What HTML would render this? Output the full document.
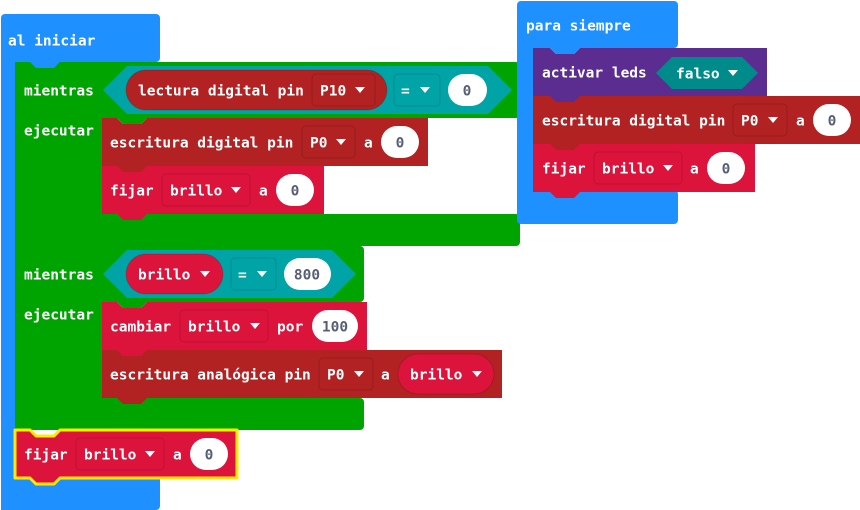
<!DOCTYPE html>
<html><head><meta charset="utf-8"><style>
html,body{margin:0;padding:0;background:#fff;}
svg{display:block}
text{font-family:"DejaVu Sans Mono","Liberation Mono",monospace;font-weight:bold;font-size:14.5px;fill:#fff;dominant-baseline:central;transform:translateY(1.5px)}
.n{fill:#575e75;text-anchor:middle}
.dd{stroke:rgba(0,0,0,0.15);stroke-width:1}
</style></head><body>
<svg width="860" height="510" viewBox="0 0 860 510" xmlns="http://www.w3.org/2000/svg">
<!-- al iniciar -->
<rect x="1" y="14" width="159" height="48" rx="4" fill="#1e90ff"/>
<rect x="1" y="40" width="16" height="470" fill="#1e90ff"/>
<rect x="1" y="470" width="159" height="40" rx="4" fill="#1e90ff"/>
<text x="8" y="40">al iniciar</text>

<!-- green mientras 1 -->
<rect x="15" y="62" width="505" height="56" rx="4" fill="#00a400"/>
<rect x="15" y="62" width="88" height="184" fill="#00a400"/>
<rect x="15" y="214" width="505" height="32" rx="4" fill="#00a400"/>
<polygon points="30,62 36,68 54,68 60,62" fill="#1e90ff"/>
<text x="24" y="90">mientras</text>
<text x="24" y="130">ejecutar</text>
<polygon points="103,90 127,66 488,66 512,90 488,114 127,114" fill="#00a4a6"/>
<rect x="126" y="70" width="261" height="40" rx="20" fill="#b22222" class="dd"/>
<text x="138" y="90">lectura digital pin</text>
<rect x="312" y="74" width="63" height="32" rx="4" fill="#b22222" class="dd"/>
<text x="320" y="90">P10</text>
<polygon points="355,87 365,87 360,93" fill="#fff"/>
<rect x="394" y="74" width="46" height="32" rx="4" fill="#00a4a6" class="dd"/>
<text x="401" y="90">=</text>
<polygon points="420,87 430,87 425,93" fill="#fff"/>
<rect x="448" y="74" width="39" height="32" rx="16" fill="#fff"/>
<text x="467" y="90" class="n">0</text>

<!-- escritura digital -->
<polygon points="102,118 117,118 123,124 141,124 147,118 428,118 428,166 147,166 141,172 123,172 117,166 102,166" fill="#b22222"/>
<polygon points="117,118 123,124 141,124 147,118" fill="#00a400"/>
<text x="110" y="142">escritura digital pin</text>
<rect x="302" y="126" width="53" height="32" rx="4" fill="#b22222" class="dd"/>
<text x="310" y="142">P0</text>
<polygon points="336,139 346,139 341,145" fill="#fff"/>
<text x="364" y="142">a</text>
<rect x="381" y="126" width="38" height="32" rx="16" fill="#fff"/>
<text x="400" y="142" class="n">0</text>

<!-- fijar -->
<polygon points="102,166 324,166 324,214 147,214 141,220 123,220 117,214 102,214" fill="#dc143c"/>
<polygon points="117,166 123,172 141,172 147,166" fill="#b22222"/>
<text x="110" y="190">fijar</text>
<rect x="162" y="174" width="88" height="32" rx="4" fill="#dc143c" class="dd"/>
<text x="170" y="190">brillo</text>
<polygon points="231,187 241,187 236,193" fill="#fff"/>
<text x="259" y="190">a</text>
<rect x="276" y="174" width="38" height="32" rx="16" fill="#fff"/>
<text x="295" y="190" class="n">0</text>

<!-- green mientras 2 -->
<rect x="15" y="246" width="349" height="56" rx="4" fill="#00a400"/>
<rect x="15" y="246" width="88" height="184" fill="#00a400"/>
<rect x="15" y="398" width="349" height="32" rx="4" fill="#00a400"/>
<text x="24" y="274">mientras</text>
<text x="24" y="314">ejecutar</text>
<polygon points="103,274 127,250 332,250 356,274 332,298 127,298" fill="#00a4a6"/>
<rect x="126" y="254" width="97" height="40" rx="20" fill="#dc143c" class="dd"/>
<text x="138" y="274">brillo</text>
<polygon points="200,271 210,271 205,277" fill="#fff"/>
<rect x="231" y="258" width="45" height="32" rx="4" fill="#00a4a6" class="dd"/>
<text x="238" y="274">=</text>
<polygon points="257,271 267,271 262,277" fill="#fff"/>
<rect x="284" y="258" width="47" height="32" rx="16" fill="#fff"/>
<text x="307" y="274" class="n">800</text>

<!-- cambiar -->
<polygon points="102,302 117,302 123,308 141,308 147,302 367,302 367,350 147,350 141,356 123,356 117,350 102,350" fill="#dc143c"/>
<polygon points="117,302 123,308 141,308 147,302" fill="#00a400"/>
<text x="110" y="326">cambiar</text>
<rect x="180" y="310" width="88" height="32" rx="4" fill="#dc143c" class="dd"/>
<text x="188" y="326">brillo</text>
<polygon points="250,323 260,323 255,329" fill="#fff"/>
<text x="277" y="326">por</text>
<rect x="312" y="310" width="46" height="32" rx="16" fill="#fff"/>
<text x="335" y="326" class="n">100</text>

<!-- escritura analogica -->
<polygon points="102,350 502,350 502,398 147,398 141,404 123,404 117,398 102,398" fill="#b22222"/>
<polygon points="117,350 123,356 141,356 147,350" fill="#dc143c"/>
<text x="110" y="374">escritura analógica pin</text>
<rect x="319" y="358" width="54" height="32" rx="4" fill="#b22222" class="dd"/>
<text x="327" y="374">P0</text>
<polygon points="354,371 364,371 359,377" fill="#fff"/>
<text x="381" y="374">a</text>
<rect x="398" y="354" width="96" height="40" rx="20" fill="#dc143c" class="dd"/>
<text x="410" y="374">brillo</text>
<polygon points="472,371 482,371 477,377" fill="#fff"/>

<!-- fijar highlighted -->
<polygon points="15,430 30,430 36,436 54,436 60,430 237,430 237,478 60,478 54,484 36,484 30,478 15,478" fill="#dc143c" stroke="#ffeb00" stroke-width="3" stroke-linejoin="round"/>
<text x="24" y="454">fijar</text>
<rect x="76" y="438" width="88" height="32" rx="4" fill="#dc143c" class="dd"/>
<text x="84" y="454">brillo</text>
<polygon points="145,451 155,451 150,457" fill="#fff"/>
<text x="173" y="454">a</text>
<rect x="190" y="438" width="38" height="32" rx="16" fill="#fff"/>
<text x="209" y="454" class="n">0</text>

<!-- para siempre -->
<rect x="517" y="1" width="161" height="47" rx="4" fill="#1e90ff"/>
<rect x="517" y="20" width="17" height="190" fill="#1e90ff"/>
<rect x="517" y="190" width="161" height="34" rx="4" fill="#1e90ff"/>
<text x="526" y="25">para siempre</text>

<polygon points="533,48 550,48 556,54 574,54 580,48 767,48 767,96 580,96 574,102 556,102 550,96 533,96" fill="#5c2d91"/>
<polygon points="550,48 556,54 574,54 580,48" fill="#1e90ff"/>
<text x="542" y="72">activar leds</text>
<polygon points="656,73 672,57 742,57 758,73 742,89 672,89" fill="#008b8b"/>
<text x="676" y="73">falso</text>
<polygon points="728,70 738,70 733,76" fill="#fff"/>

<polygon points="533,96 860,96 860,144 580,144 574,150 556,150 550,144 533,144" fill="#b22222"/>
<polygon points="550,96 556,102 574,102 580,96" fill="#5c2d91"/>
<text x="542" y="120">escritura digital pin</text>
<rect x="733" y="104" width="54" height="32" rx="4" fill="#b22222" class="dd"/>
<text x="741" y="120">P0</text>
<polygon points="768,117 778,117 773,123" fill="#fff"/>
<text x="796" y="120">a</text>
<rect x="813" y="104" width="38" height="32" rx="16" fill="#fff"/>
<text x="832" y="120" class="n">0</text>

<polygon points="533,144 755,144 755,192 580,192 574,198 556,198 550,192 533,192" fill="#dc143c"/>
<polygon points="550,144 556,150 574,150 580,144" fill="#b22222"/>
<text x="542" y="168">fijar</text>
<rect x="594" y="152" width="88" height="32" rx="4" fill="#dc143c" class="dd"/>
<text x="602" y="168">brillo</text>
<polygon points="663,165 673,165 668,171" fill="#fff"/>
<text x="690" y="168">a</text>
<rect x="707" y="152" width="38" height="32" rx="16" fill="#fff"/>
<text x="726" y="168" class="n">0</text>
</svg>
</body></html>
